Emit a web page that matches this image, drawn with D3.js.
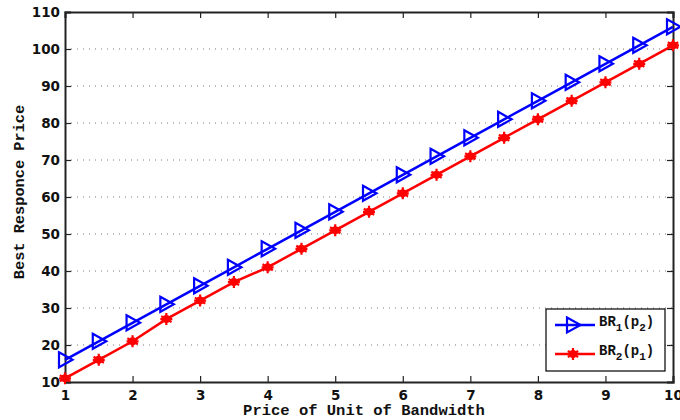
<!DOCTYPE html>
<html>
<head>
<meta charset="utf-8">
<script src="https://cdn.jsdelivr.net/npm/d3@7"></script>
<style>
  html, body { margin: 0; padding: 0; background: #fff; }
  svg { display: block; }
</style>
</head>
<body>
<svg id="chart" width="680" height="420"></svg>
<script>
// Price of a unit of bandwidth (x) and the two best-response curves
const prices = [1, 1.5, 2, 2.5, 3, 3.5, 4, 4.5, 5, 5.5, 6, 6.5, 7, 7.5, 8, 8.5, 9, 9.5, 10];
const br1 = [16, 21, 26, 31, 36, 41, 46, 51, 56, 61, 66, 71, 76, 81, 86, 91, 96, 101, 106];
const br2 = [11, 16, 21, 27, 32, 37, 41, 46, 51, 56, 61, 66, 71, 76, 81, 86, 91, 96, 101];
const xTicks = [1, 2, 3, 4, 5, 6, 7, 8, 9, 10];
const yTicks = [10, 20, 30, 40, 50, 60, 70, 80, 90, 100, 110];

const svg = d3.select("#chart");
const plotL = 65, plotR = 673, plotT = 12, plotB = 382;

const x = d3.scaleLinear().domain([1, 10]).range([plotL, plotR]);
const y = d3.scaleLinear().domain([10, 110]).range([plotB, plotT]);

const tickFont = "'DejaVu Sans', sans-serif";
const monoFont = "'Liberation Mono', 'DejaVu Sans Mono', monospace";

// horizontal dotted grid
svg.append("g")
  .selectAll("line")
  .data(yTicks.slice(1, -1))
  .join("line")
  .attr("x1", plotL).attr("x2", plotR)
  .attr("y1", d => y(d)).attr("y2", d => y(d))
  .attr("stroke", "#777").attr("stroke-width", 1)
  .attr("stroke-dasharray", "1,5");

// axes with inward ticks on all four sides
const axB = svg.append("g").attr("transform", `translate(0,${plotB})`)
  .call(d3.axisBottom(x).tickValues(xTicks).tickSize(-6).tickPadding(8).tickFormat(d3.format("d")));
const axT = svg.append("g").attr("transform", `translate(0,${plotT})`)
  .call(d3.axisTop(x).tickValues(xTicks).tickSize(-6).tickFormat(""));
const axL = svg.append("g").attr("transform", `translate(${plotL},0)`)
  .call(d3.axisLeft(y).tickValues(yTicks).tickSize(-6).tickPadding(5).tickFormat(d3.format("d")));
const axR = svg.append("g").attr("transform", `translate(${plotR},0)`)
  .call(d3.axisRight(y).tickValues(yTicks).tickSize(-6).tickFormat(""));

[axB, axT, axL, axR].forEach(a => {
  a.select(".domain").attr("stroke", "#222").attr("stroke-width", 2);
  a.selectAll(".tick line").attr("stroke", "#222").attr("stroke-width", 1.2);
  a.selectAll("text").attr("font-family", tickFont).attr("font-weight", "bold")
    .attr("font-size", 13.5).attr("fill", "#111");
});

// axis titles
svg.append("text")
  .attr("x", 364).attr("y", 415)
  .attr("text-anchor", "middle")
  .attr("font-family", monoFont).attr("font-weight", "bold").attr("font-size", 15.5)
  .attr("fill", "#111")
  .text("Price of Unit of Bandwidth");

svg.append("text")
  .attr("transform", "translate(24,192) rotate(-90)")
  .attr("text-anchor", "middle")
  .attr("font-family", monoFont).attr("font-weight", "bold").attr("font-size", 15.3)
  .attr("fill", "#111")
  .text("Best Responce Price");

// series
const series = [
  { name: "BR1", sub1: "1", sub2: "2", values: br1, color: "#0000ff", marker: "tri" },
  { name: "BR2", sub1: "2", sub2: "1", values: br2, color: "#ff0000", marker: "star" }
];

const line = d3.line().x(d => x(d[0])).y(d => y(d[1]));

function drawMarker(g, kind, color) {
  if (kind === "tri") {
    g.append("path")
      .attr("d", "M-6,-7.5 L7.5,0 L-6,7.5 Z")
      .attr("fill", "none").attr("stroke", color).attr("stroke-width", 2.2);
  } else {
    g.append("circle").attr("r", 4).attr("fill", color);
    g.append("path")
      .attr("d", "M0,-6 L0,6 M-5.2,-3 L5.2,3 M-5.2,3 L5.2,-3 M-6,0 L6,0")
      .attr("stroke", color).attr("stroke-width", 2.2);
  }
}

series.forEach(s => {
  const pts = prices.map((p, i) => [p, s.values[i]]);
  svg.append("path")
    .datum(pts)
    .attr("d", line)
    .attr("fill", "none")
    .attr("stroke", s.color)
    .attr("stroke-width", 2.5);
  svg.append("g")
    .selectAll("g")
    .data(pts)
    .join("g")
    .attr("transform", d => `translate(${x(d[0])},${y(d[1])})`)
    .each(function () { drawMarker(d3.select(this), s.marker, s.color); });
});

// legend
const lg = svg.append("g");
lg.append("rect")
  .attr("x", 546).attr("y", 309).attr("width", 119).attr("height", 62)
  .attr("fill", "#fff").attr("stroke", "#000").attr("stroke-width", 1.2);

series.forEach((s, i) => {
  const cy = 325 + i * 29;
  lg.append("line")
    .attr("x1", 555).attr("x2", 595).attr("y1", cy).attr("y2", cy)
    .attr("stroke", s.color).attr("stroke-width", 2.5);
  drawMarker(lg.append("g").attr("transform", `translate(573,${cy})`), s.marker, s.color);
  const t = lg.append("text")
    .attr("x", 599).attr("y", cy + 1)
    .attr("font-family", monoFont).attr("font-weight", "bold").attr("font-size", 14)
    .attr("fill", "#111");
  t.append("tspan").text("BR");
  t.append("tspan").attr("font-size", 11).attr("dy", 5).text(s.sub1);
  t.append("tspan").attr("dy", -5).text("(p");
  t.append("tspan").attr("font-size", 11).attr("dy", 5).text(s.sub2);
  t.append("tspan").attr("dy", -5).text(")");
});
</script>
</body>
</html>
